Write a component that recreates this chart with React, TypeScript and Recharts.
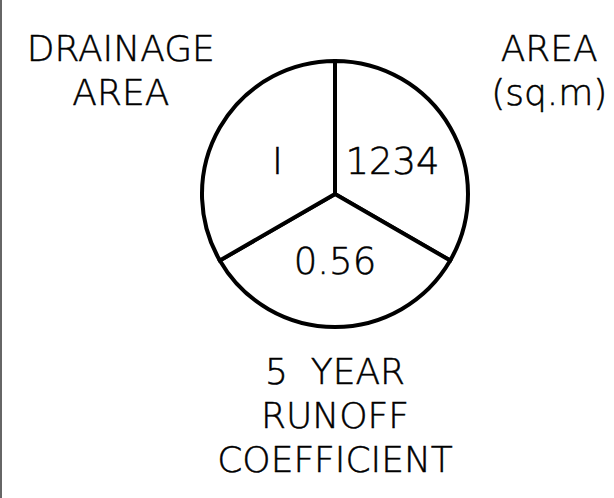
import { PieChart, Pie, Cell } from "recharts";

// one third each, clockwise from 12 o'clock
const SHARES = [1, 1, 1];
const VALUES = ["1234", "0.56", "I"];
const TITLES = [
  ["AREA", "(sq.m)"],
  ["5  YEAR", "RUNOFF", "COEFFICIENT"],
  ["DRAINAGE", "AREA"],
];

const data = SHARES.map((share, i) => ({ share, value: VALUES[i], title: TITLES[i] }));

const RAD = Math.PI / 180;
const FONT = "'DejaVu Sans', sans-serif";
const TITLE_RADIUS = [1.86, 1.66, 1.86];
const LINE_GAP = 44;

function renderLabel(props: any) {
  const { cx, cy, midAngle, outerRadius, index } = props;
  const entry = data[index];
  const cos = Math.cos(-midAngle * RAD);
  const sin = Math.sin(-midAngle * RAD);
  const vx = cx + outerRadius * 0.5 * cos;
  const vy = cy + outerRadius * 0.5 * sin;
  const tr = outerRadius * TITLE_RADIUS[index];
  const tx = cx + tr * cos;
  const ty = cy + tr * sin;
  const n = entry.title.length;
  return (
    <g fontFamily={FONT} fontWeight={200} fill="#000" stroke="#000" strokeWidth={0.5}>
      <text x={vx} y={vy + 13.5} textAnchor="middle" fontSize={37}>
        {entry.value}
      </text>
      {entry.title.map((line, i) => (
        <text
          key={i}
          x={tx}
          y={ty + (i - (n - 1) / 2) * LINE_GAP + 13}
          textAnchor="middle"
          fontSize={36}
          style={{ whiteSpace: "pre" }}
        >
          {line}
        </text>
      ))}
    </g>
  );
}

export default function App() {
  return (
    <div style={{ position: "absolute", left: 0, top: 0, width: 614, height: 498, background: "#fff", borderLeft: "2px solid #666", boxSizing: "border-box" }}>
      <PieChart width={612} height={498} margin={{ top: 0, right: 0, bottom: 0, left: 0 }}>
        <Pie
          data={data}
          dataKey="share"
          cx={333}
          cy={194}
          outerRadius={133}
          startAngle={90}
          endAngle={-270}
          stroke="#000"
          strokeWidth={4}
          label={renderLabel}
          labelLine={false}
          isAnimationActive={false}
        >
          {data.map((_, i) => (
            <Cell key={i} fill="#fff" />
          ))}
        </Pie>
      </PieChart>
    </div>
  );
}
